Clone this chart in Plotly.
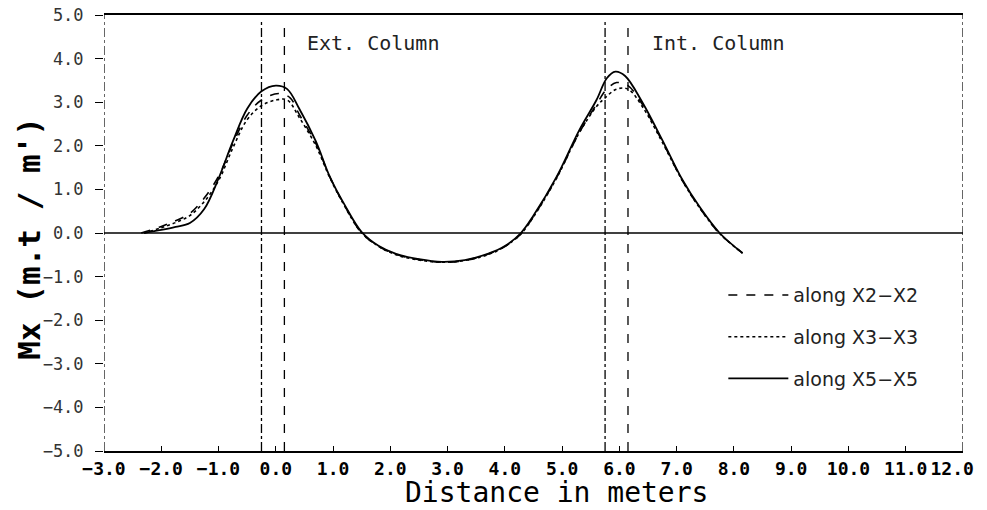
import plotly.graph_objects as go

# ---- data ----
x_x5 = [-2.3, -2.0, -1.75, -1.5, -1.25, -1.0, -0.75, -0.5, -0.25, 0.0, 0.2, 0.41, 0.7, 0.94, 1.2, 1.5,
        1.8, 2.1, 2.5, 2.9, 3.3, 3.7, 4.0, 4.28, 4.5, 4.9, 5.3, 5.6, 5.78, 5.93, 6.1, 6.4, 6.75, 7.1,
        7.4, 7.75, 8.15]
y_x5 = [0.0, 0.07, 0.14, 0.23, 0.55, 1.25, 2.1, 2.85, 3.25, 3.38, 3.3, 2.85, 2.1, 1.3, 0.65, 0.02,
        -0.3, -0.48, -0.6, -0.66, -0.62, -0.48, -0.3, 0.0, 0.4, 1.28, 2.36, 3.05, 3.55, 3.7, 3.6, 3.0,
        2.13, 1.22, 0.6, 0.0, -0.46]

x_x2 = [-2.35, -2.0, -1.75, -1.5, -1.25, -1.0, -0.75, -0.5, -0.25, 0.05, 0.25, 0.41, 0.7, 0.94, 1.2,
        1.5, 1.8, 2.1, 2.5, 2.9, 3.3, 3.7, 4.0, 4.28, 4.5, 4.9, 5.3, 5.6, 5.78, 5.95, 6.15, 6.4, 6.75,
        7.1, 7.4, 7.75, 8.15]
y_x2 = [0.0, 0.15, 0.28, 0.45, 0.8, 1.3, 2.05, 2.7, 3.05, 3.2, 3.1, 2.72, 2.05, 1.3, 0.63, 0.0,
        -0.31, -0.49, -0.61, -0.67, -0.63, -0.49, -0.31, -0.02, 0.38, 1.26, 2.3, 2.95, 3.3, 3.45, 3.38,
        2.95, 2.1, 1.2, 0.58, -0.01, -0.46]

x_x3 = [-2.3, -2.0, -1.75, -1.5, -1.25, -1.0, -0.75, -0.5, -0.25, 0.0, 0.2, 0.41, 0.7, 0.94, 1.2,
        1.5, 1.8, 2.1, 2.5, 2.9, 3.3, 3.7, 4.0, 4.28, 4.5, 4.9, 5.3, 5.6, 5.75, 5.95, 6.15, 6.4, 6.75,
        7.1, 7.4, 7.75, 8.15]
y_x3 = [0.0, 0.12, 0.24, 0.4, 0.72, 1.2, 1.95, 2.6, 2.92, 3.05, 3.05, 2.65, 2.0, 1.28, 0.62, 0.0,
        -0.31, -0.5, -0.62, -0.67, -0.63, -0.5, -0.31, -0.02, 0.37, 1.25, 2.3, 2.9, 3.1, 3.3, 3.3,
        2.9, 2.08, 1.2, 0.58, -0.01, -0.46]

series_names = ["along X2\u2212X2", "along X3\u2212X3", "along X5\u2212X5"]

x_ticks = [-3.0, -2.0, -1.0, 0.0, 1.0, 2.0, 3.0, 4.0, 5.0, 6.0, 7.0, 8.0, 9.0, 10.0, 11.0, 12.0]
y_ticks = [-5.0, -4.0, -3.0, -2.0, -1.0, 0.0, 1.0, 2.0, 3.0, 4.0, 5.0]

ext_col_lines = [-0.25, 0.15]
int_col_lines = [5.75, 6.15]

MONO = "DejaVu Sans Mono, monospace"


def fmt(v):
    return f"{v:.1f}".replace("-", "\u2212")


x_ticktext = [fmt(v) for v in x_ticks]
# the last label sits left of its tick in the reference (kept inside the page)
x_ticktext[-1] = x_ticktext[-1] + "\u00a0\u00a0"

fig = go.Figure()
fig.add_trace(go.Scatter(x=x_x2, y=y_x2, mode="lines", name=series_names[0], legendgroup="a",
                         line=dict(color="black", width=1.6, dash="dash", shape="spline")))
fig.add_trace(go.Scatter(x=x_x3, y=y_x3, mode="lines", name=series_names[1], legendgroup="b",
                         line=dict(color="black", width=1.6, dash="dot", shape="spline")))
fig.add_trace(go.Scatter(x=x_x5, y=y_x5, mode="lines", name=series_names[2], legendgroup="c",
                         line=dict(color="black", width=1.8, shape="spline")))

shapes = []
# zero line
shapes.append(dict(type="line", xref="x", yref="y", x0=-3, x1=12, y0=0, y1=0,
                   line=dict(color="black", width=1.5)))
# frame left / right (dashed in the scan)
for xv in [-3.0, 12.0]:
    shapes.append(dict(type="line", xref="x", yref="y", x0=xv, x1=xv, y0=-5, y1=5,
                       line=dict(color="black", width=1.2, dash="dashdot")))
# column lines
for xv, d in zip(ext_col_lines + int_col_lines, ["dashdot", "dash", "dashdot", "dash"]):
    shapes.append(dict(type="line", xref="x", yref="y", x0=xv, x1=xv, y0=-5, y1=4.9,
                       line=dict(color="black", width=1.3, dash=d)))

fig.update_layout(
    width=987, height=502,
    margin=dict(l=96, r=32, t=7, b=59, autoexpand=False),
    paper_bgcolor="white", plot_bgcolor="white",
    shapes=shapes,
    showlegend=True,
    legend=dict(x=0.721, y=0.401, xanchor="left", yanchor="top", bgcolor="rgba(0,0,0,0)",
                font=dict(family="DejaVu Sans, sans-serif", size=19, color="#222"),
                tracegroupgap=14, itemwidth=60),
    annotations=[
        dict(x=0.51, y=4.36, xref="x", yref="y", text="Ext. Column", showarrow=False,
             xanchor="left", yanchor="middle", font=dict(family=MONO, size=20, color="#222")),
        dict(x=6.53, y=4.36, xref="x", yref="y", text="Int. Column", showarrow=False,
             xanchor="left", yanchor="middle", font=dict(family=MONO, size=20, color="#222")),
        dict(x=0.527, y=-0.095, xref="paper", yref="paper", text="Distance in meters",
             showarrow=False, xanchor="center", yanchor="middle",
             font=dict(family=MONO, size=28, color="black")),
        dict(x=-0.0875, y=0.489, xref="paper", yref="paper", text="Mx (m.t / m')",
             showarrow=False, xanchor="center", yanchor="middle", textangle=-90,
             font=dict(family=MONO, size=31, color="black", weight="bold")),
    ],
)
fig.update_xaxes(range=[-3, 12], tickvals=x_ticks, ticktext=x_ticktext, tickangle=0,
                 showgrid=False, zeroline=False, showline=True, mirror=True,
                 linecolor="black", linewidth=2, ticks="inside", ticklen=5, tickcolor="black",
                 ticklabeloverflow="allow",
                 tickfont=dict(family=MONO, size=18, color="black", weight="bold"))
fig.update_yaxes(range=[-5, 5], tickvals=y_ticks, tickformat=".1f",
                 showgrid=False, zeroline=False, showline=False,
                 ticks="outside", ticklen=8, tickcolor="black",
                 ticklabeloverflow="allow", ticklabelstandoff=8,
                 tickfont=dict(family=MONO, size=17, color="#333"))

fig.write_html("out.html")
